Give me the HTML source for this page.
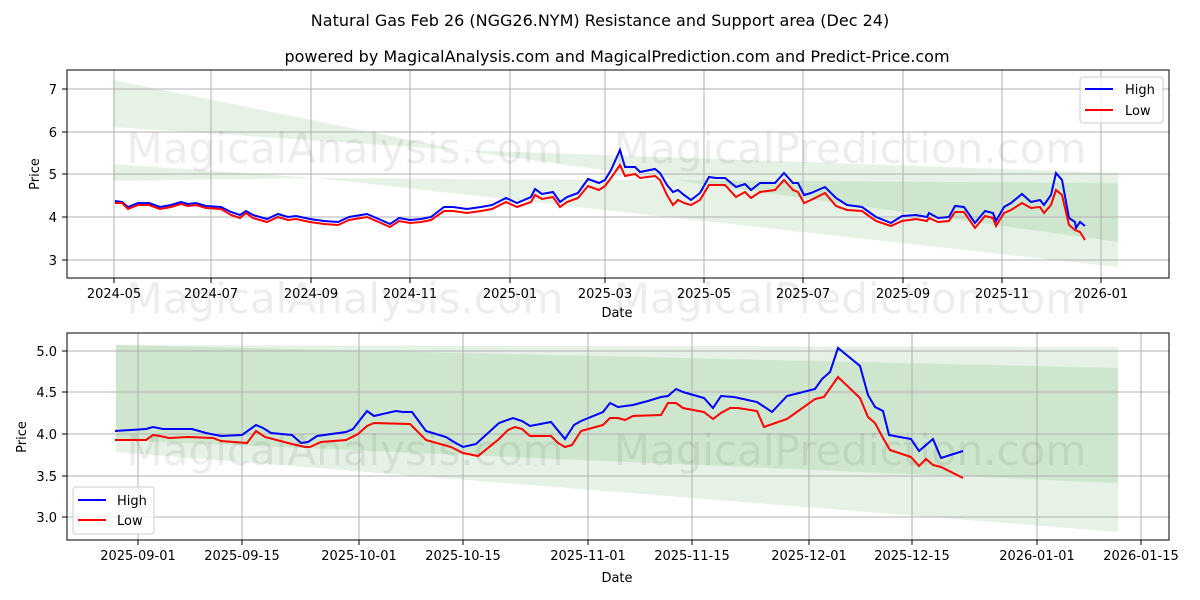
<!DOCTYPE html>
<html><head><meta charset="utf-8"><style>body{margin:0;background:#fff}svg{display:block;font-family:"DejaVu Sans","Liberation Sans",sans-serif}</style></head><body>
<svg width="1200" height="600" xmlns="http://www.w3.org/2000/svg">
<rect width="1200" height="600" fill="#fff"/>
<text x="600" y="26" font-size="16" text-anchor="middle">Natural Gas Feb 26 (NGG26.NYM) Resistance and Support area (Dec 24)</text>
<text x="617" y="62" font-size="16" text-anchor="middle">powered by MagicalAnalysis.com and MagicalPrediction.com and Predict-Price.com</text>

<!-- TOP -->
<g>
<polygon points="113,80 460,150 113,127" fill="green" fill-opacity="0.1"/>
<polygon points="460,150 1118,173 1118,242" fill="green" fill-opacity="0.1"/>
<polygon points="113,164 317,178 113,181" fill="green" fill-opacity="0.1"/>
<polygon points="317,178 1118,183 1118,267" fill="green" fill-opacity="0.1"/>
<g stroke="#b0b0b0" stroke-width="1">
<line x1="114" y1="70" x2="114" y2="278"/><line x1="211" y1="70" x2="211" y2="278"/><line x1="311" y1="70" x2="311" y2="278"/><line x1="410" y1="70" x2="410" y2="278"/><line x1="510" y1="70" x2="510" y2="278"/><line x1="605" y1="70" x2="605" y2="278"/><line x1="704" y1="70" x2="704" y2="278"/><line x1="803" y1="70" x2="803" y2="278"/><line x1="903" y1="70" x2="903" y2="278"/><line x1="1002" y1="70" x2="1002" y2="278"/><line x1="1101" y1="70" x2="1101" y2="278"/>
<line x1="67" y1="89" x2="1169" y2="89"/><line x1="67" y1="132" x2="1169" y2="132"/><line x1="67" y1="174" x2="1169" y2="174"/><line x1="67" y1="217" x2="1169" y2="217"/><line x1="67" y1="260" x2="1169" y2="260"/>
</g>
<g font-size="42" fill="#000" fill-opacity="0.07" text-anchor="middle"><text x="345" y="163">MagicalAnalysis.com</text><text x="850" y="163">MagicalPrediction.com</text><text x="345" y="313">MagicalAnalysis.com</text><text x="850" y="313">MagicalPrediction.com</text></g>
<polyline fill="none" stroke="#0000ff" stroke-width="2" points="115,201 122,202 128,207 138,203 149,203 160,207 171,205 181,202 188,204 196,203 206,206 221,207 231,212 240,215 246,211 253,215 267,219 278,214 288,217 296,216 310,219 324,221 338,222 349,217 367,214 381,220 390,224 399,218 410,220 421,219 431,217 444,207 453,207 467,209 481,207 492,205 506,198 517,203 531,197 535,189 542,194 553,192 560,202 567,197 578,193 588,179 599,183 605,180 611,170 620,150 625,167 635,167 640,172 655,169 660,173 667,185 673,192 678,190 684,195 691,200 700,193 709,177 716,178 725,178 736,187 745,184 751,190 760,183 775,183 784,173 793,183 798,183 804,195 811,193 825,187 836,198 847,205 862,207 876,217 891,223 902,216 916,215 927,217 929,213 938,218 949,217 955,206 964,207 975,223 985,211 993,213 996,221 1004,207 1011,203 1022,194 1031,202 1040,200 1044,205 1051,195 1056,173 1062,180 1069,218 1075,222 1076,228 1080,222 1085,226"/>
<polyline fill="none" stroke="#ff0000" stroke-width="2" points="115,203 122,203 128,209 138,205 149,205 160,209 171,207 181,204 188,206 196,205 206,208 221,209 231,215 240,218 246,213 253,218 267,222 278,217 288,220 296,219 310,222 324,224 338,225 349,220 367,217 381,223 390,227 399,221 410,223 421,222 431,220 444,211 453,211 467,213 481,211 492,209 506,202 517,207 531,202 535,195 542,199 553,197 560,207 567,202 578,198 588,186 599,190 605,186 611,178 620,165 625,176 635,174 640,178 655,176 660,180 667,195 673,205 678,200 684,203 691,205 700,200 709,185 716,185 725,185 736,197 745,192 751,198 760,192 775,190 784,180 793,190 798,192 804,203 811,200 825,193 836,206 847,210 862,211 876,221 891,226 902,221 916,219 927,221 929,218 938,222 949,221 955,212 964,212 975,228 985,216 993,218 996,226 1004,213 1011,210 1022,203 1031,208 1040,207 1044,213 1051,205 1056,190 1062,195 1069,225 1075,230 1080,232 1085,240"/>
<rect x="67" y="70" width="1102" height="208" fill="none" stroke="#000" stroke-width="1"/>
<g stroke="#000"><line x1="114" y1="278" x2="114" y2="283"/><line x1="211" y1="278" x2="211" y2="283"/><line x1="311" y1="278" x2="311" y2="283"/><line x1="410" y1="278" x2="410" y2="283"/><line x1="510" y1="278" x2="510" y2="283"/><line x1="605" y1="278" x2="605" y2="283"/><line x1="704" y1="278" x2="704" y2="283"/><line x1="803" y1="278" x2="803" y2="283"/><line x1="903" y1="278" x2="903" y2="283"/><line x1="1002" y1="278" x2="1002" y2="283"/><line x1="1101" y1="278" x2="1101" y2="283"/>
<line x1="62" y1="89" x2="67" y2="89"/><line x1="62" y1="132" x2="67" y2="132"/><line x1="62" y1="174" x2="67" y2="174"/><line x1="62" y1="217" x2="67" y2="217"/><line x1="62" y1="260" x2="67" y2="260"/></g>
<g font-size="13" text-anchor="middle"><text x="114" y="298">2024-05</text><text x="211" y="298">2024-07</text><text x="311" y="298">2024-09</text><text x="410" y="298">2024-11</text><text x="510" y="298">2025-01</text><text x="605" y="298">2025-03</text><text x="704" y="298">2025-05</text><text x="803" y="298">2025-07</text><text x="903" y="298">2025-09</text><text x="1002" y="298">2025-11</text><text x="1101" y="298">2026-01</text><text x="617" y="317">Date</text></g>
<g font-size="13" text-anchor="end"><text x="57" y="94">7</text><text x="57" y="137">6</text><text x="57" y="179">5</text><text x="57" y="222">4</text><text x="57" y="265">3</text></g>
<text x="39" y="174" font-size="13" text-anchor="middle" transform="rotate(-90 39 174)">Price</text>
<rect x="1080" y="77" width="83" height="46" rx="3" fill="#fff" fill-opacity="0.8" stroke="#ccc"/>
<line x1="1085" y1="89" x2="1113" y2="89" stroke="#0000ff" stroke-width="2"/><text x="1125" y="94" font-size="13">High</text>
<line x1="1085" y1="110" x2="1113" y2="110" stroke="#ff0000" stroke-width="2"/><text x="1125" y="115" font-size="13">Low</text>
</g>

<!-- BOTTOM -->
<g>
<polygon points="116,345 1118,347 1118,483 116,440" fill="green" fill-opacity="0.1"/>
<polygon points="116,345 1118,368 1118,532 116,452" fill="green" fill-opacity="0.1"/>
<g stroke="#b0b0b0" stroke-width="1">
<line x1="138" y1="333" x2="138" y2="540"/><line x1="242" y1="333" x2="242" y2="540"/><line x1="359" y1="333" x2="359" y2="540"/><line x1="463" y1="333" x2="463" y2="540"/><line x1="588" y1="333" x2="588" y2="540"/><line x1="692" y1="333" x2="692" y2="540"/><line x1="809" y1="333" x2="809" y2="540"/><line x1="912" y1="333" x2="912" y2="540"/><line x1="1037" y1="333" x2="1037" y2="540"/><line x1="1141" y1="333" x2="1141" y2="540"/>
<line x1="67" y1="351" x2="1169" y2="351"/><line x1="67" y1="392" x2="1169" y2="392"/><line x1="67" y1="434" x2="1169" y2="434"/><line x1="67" y1="476" x2="1169" y2="476"/><line x1="67" y1="517" x2="1169" y2="517"/>
</g>
<g font-size="42" fill="#000" fill-opacity="0.07" text-anchor="middle"><text x="345" y="465">MagicalAnalysis.com</text><text x="850" y="465">MagicalPrediction.com</text></g>
<polyline fill="none" stroke="#0000ff" stroke-width="2" points="115,431 146,429 153,427 163,429 192,429 206,433 221,436 242,435 256,425 263,428 271,433 292,435 301,443 308,442 317,436 346,432 353,429 360,420 367,411 374,416 396,411 403,412 412,412 426,431 446,437 454,442 463,447 476,444 499,423 513,418 522,421 530,426 551,422 565,439 574,425 581,421 603,412 610,403 618,407 633,405 648,401 661,397 668,396 676,389 683,392 704,398 713,408 721,396 734,397 757,402 772,412 787,396 815,389 822,379 830,372 838,348 860,366 868,395 875,407 883,411 889,435 911,439 919,451 933,439 941,458 963,451"/>
<polyline fill="none" stroke="#ff0000" stroke-width="2" points="115,440 146,440 153,435 160,436 169,438 188,437 213,438 221,441 247,443 256,431 265,437 292,444 305,447 310,447 321,442 346,440 358,434 367,426 374,423 410,424 426,440 451,447 463,453 478,456 499,439 508,430 515,427 522,429 530,436 551,436 558,443 565,447 572,445 581,431 603,425 610,418 618,418 625,420 633,416 661,415 668,403 676,403 683,408 704,412 713,419 721,413 730,408 738,408 757,411 764,427 787,419 815,399 824,397 838,377 860,398 868,417 875,423 883,438 890,450 911,457 919,466 926,459 933,465 941,467 963,478"/>
<rect x="67" y="333" width="1102" height="207" fill="none" stroke="#000" stroke-width="1"/>
<g stroke="#000"><line x1="138" y1="540" x2="138" y2="545"/><line x1="242" y1="540" x2="242" y2="545"/><line x1="359" y1="540" x2="359" y2="545"/><line x1="463" y1="540" x2="463" y2="545"/><line x1="588" y1="540" x2="588" y2="545"/><line x1="692" y1="540" x2="692" y2="545"/><line x1="809" y1="540" x2="809" y2="545"/><line x1="912" y1="540" x2="912" y2="545"/><line x1="1037" y1="540" x2="1037" y2="545"/><line x1="1141" y1="540" x2="1141" y2="545"/>
<line x1="62" y1="351" x2="67" y2="351"/><line x1="62" y1="392" x2="67" y2="392"/><line x1="62" y1="434" x2="67" y2="434"/><line x1="62" y1="476" x2="67" y2="476"/><line x1="62" y1="517" x2="67" y2="517"/></g>
<g font-size="13" text-anchor="middle"><text x="138" y="560">2025-09-01</text><text x="242" y="560">2025-09-15</text><text x="359" y="560">2025-10-01</text><text x="463" y="560">2025-10-15</text><text x="588" y="560">2025-11-01</text><text x="692" y="560">2025-11-15</text><text x="809" y="560">2025-12-01</text><text x="912" y="560">2025-12-15</text><text x="1037" y="560">2026-01-01</text><text x="1141" y="560">2026-01-15</text><text x="617" y="582">Date</text></g>
<g font-size="13" text-anchor="end"><text x="57" y="356">5.0</text><text x="57" y="397">4.5</text><text x="57" y="439">4.0</text><text x="57" y="481">3.5</text><text x="57" y="522">3.0</text></g>
<text x="26" y="437" font-size="13" text-anchor="middle" transform="rotate(-90 26 437)">Price</text>
<rect x="73" y="487" width="81" height="47" rx="3" fill="#fff" fill-opacity="0.8" stroke="#ccc"/>
<line x1="78" y1="500" x2="106" y2="500" stroke="#0000ff" stroke-width="2"/><text x="117" y="505" font-size="13">High</text>
<line x1="78" y1="520" x2="106" y2="520" stroke="#ff0000" stroke-width="2"/><text x="117" y="525" font-size="13">Low</text>
</g>
</svg>
</body></html>
